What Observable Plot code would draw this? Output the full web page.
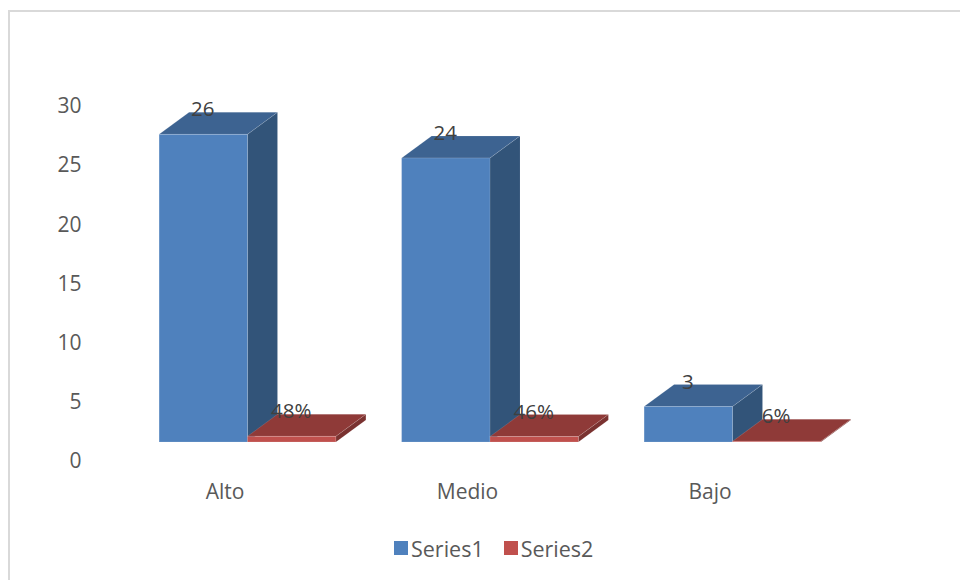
<!DOCTYPE html>
<html>
<head>
<meta charset="utf-8">
<script src="https://cdn.jsdelivr.net/npm/d3@7"></script>
<script src="https://cdn.jsdelivr.net/npm/@observablehq/plot@0.6"></script>
<style>
  html, body { margin: 0; padding: 0; background: #fff; overflow: hidden; }
  #wrap { position: relative; width: 960px; height: 580px; font-family: "Open Sans", sans-serif; }
  #border { position: absolute; left: 8px; top: 10px; right: -4px; bottom: -4px; border: 2px solid #d9d9d9; }
  #chart { position: absolute; left: 0; top: 0; }
  #chart svg { display: block; background: transparent; }
  #legend { position: absolute; left: 394px; top: 534px; height: 28px; display: flex; align-items: center; color: #595959; font-size: 21.5px; }
  #legend .sw { display: inline-block; width: 14px; height: 14px; margin-right: 3px; }
  #legend .item { display: flex; align-items: center; margin-right: 20px; }
</style>
</head>
<body>
<div id="wrap">
  <div id="border"></div>
  <div id="chart"></div>
  <div id="legend"></div>
</div>
<script>
// Data
const categories = ["Alto", "Medio", "Bajo"];
const series1 = [26, 24, 3];
const series2 = [0.48, 0.46, 0.06];
const series2Labels = ["48%", "46%", "6%"];
const seriesNames = ["Series1", "Series2"];
const yTicks = [0, 5, 10, 15, 20, 25, 30];

// Colours per face
const frontColors = ["#4f81bd", "#c0504d"];
const topColors = ["#3d6391", "#8f3a38"];
const sideColors = ["#325479", "#7a3230"];

// Geometry of the pseudo 3D extrusion, in scale units
const barWidth = 0.3645;
const depthX = 0.1237;
const depthY = 1.86;

const bars = [];
categories.forEach((c, i) => {
  bars.push({s: 0, i, v: series1[i], x1: i - barWidth, x2: i, label: String(series1[i])});
  bars.push({s: 1, i, v: series2[i], x1: i, x2: i + barWidth, label: series2Labels[i]});
});

const sideFaces = bars.flatMap((b) => [
  {s: b.s, id: b.s + "-" + b.i, x: b.x2, y1: 0, y2: b.v},
  {s: b.s, id: b.s + "-" + b.i, x: b.x2 + depthX, y1: depthY, y2: b.v + depthY}
]);
const topFaces = bars.flatMap((b) => [
  {s: b.s, id: b.s + "-" + b.i, y: b.v, x1: b.x1, x2: b.x2},
  {s: b.s, id: b.s + "-" + b.i, y: b.v + depthY, x1: b.x1 + depthX, x2: b.x2 + depthX}
]);

const seriesMarks = (s) => [
  Plot.areaY(sideFaces.filter((d) => d.s === s), {x: "x", y1: "y1", y2: "y2", z: "id", fill: sideColors[s], stroke: "#ffffff", strokeOpacity: 0.08, strokeWidth: 1}),
  Plot.areaX(topFaces.filter((d) => d.s === s), {y: "y", x1: "x1", x2: "x2", z: "id", fill: topColors[s], stroke: "#ffffff", strokeOpacity: 0.12, strokeWidth: 1}),
  Plot.rect(bars.filter((d) => d.s === s), {x1: "x1", x2: "x2", y1: 0, y2: "v", fill: frontColors[s], stroke: "#ffffff", strokeOpacity: 0.15, strokeWidth: 1})
];

const chart = Plot.plot({
  width: 960,
  height: 525,
  marginLeft: 84,
  marginRight: 106.25,
  marginTop: 87,
  marginBottom: 83,
  style: {fontFamily: '"Open Sans", sans-serif', fontSize: "21px", background: "transparent", overflow: "visible"},
  x: {domain: [-(247.5 - 84) / 242.5, (853.75 - 247.5) / 242.5], range: [84, 853.75]},
  y: {domain: [0, 30], range: [442, 87]},
  marks: [
    Plot.axisY({ticks: yTicks, tickSize: 0, tickPadding: 3, dy: 19, label: null, fontSize: 21, fill: "#595959"}),
    Plot.axisX({ticks: [0, 1, 2], tickFormat: (d) => categories[d], tickSize: 0, tickPadding: 0, dx: -23, dy: 42, label: null, fontSize: 21, fill: "#595959"}),
    ...seriesMarks(0),
    ...seriesMarks(1),
    Plot.text(bars, {
      x: (d) => (d.x1 + d.x2) / 2,
      y: "v",
      text: "label",
      dx: -1,
      dy: -25,
      fontSize: 20.5,
      fill: "#404040"
    })
  ]
});
document.getElementById("chart").appendChild(chart);

// Legend
const legend = document.getElementById("legend");
seriesNames.forEach((name, k) => {
  const item = document.createElement("span");
  item.className = "item";
  const sw = document.createElement("span");
  sw.className = "sw";
  sw.style.background = frontColors[k];
  item.appendChild(sw);
  item.appendChild(document.createTextNode(name));
  legend.appendChild(item);
});
</script>
</body>
</html>
